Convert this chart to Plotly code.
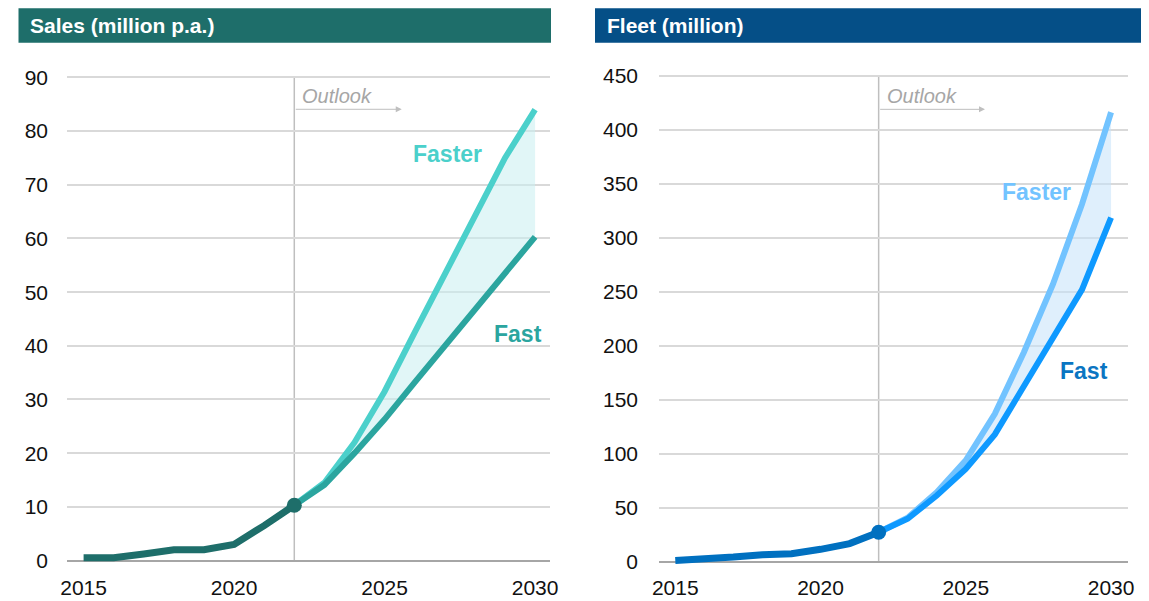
import plotly.graph_objects as go

# ---------------- data ----------------
hist_years = [2015, 2016, 2017, 2018, 2019, 2020, 2021, 2022]
out_years = [2022, 2023, 2024, 2025, 2026, 2027, 2028, 2029, 2030]

sales_hist = [0.5, 0.5, 1.2, 2.0, 2.0, 3.0, 6.5, 10.3]
sales_faster = [10.3, 14.5, 22.0, 31.5, 42.5, 53.5, 64.5, 75.0, 84.0]
sales_fast = [10.3, 14.1, 20.0, 26.3, 33.2, 39.9, 46.7, 53.4, 60.3]

fleet_hist = [1.3, 2.2, 4.5, 6.7, 7.7, 11.7, 17.0, 27.5]
fleet_faster = [27.5, 41.0, 64.5, 94.0, 137.0, 194.0, 257.0, 331.0, 416.0]
fleet_fast = [27.5, 40.0, 61.5, 86.0, 118.0, 162.0, 206.0, 252.0, 318.5]

x_ticks = [2015, 2020, 2025, 2030]
sales_ticks = [0, 10, 20, 30, 40, 50, 60, 70, 80, 90]
fleet_ticks = [0, 50, 100, 150, 200, 250, 300, 350, 400, 450]

titles = ["Sales (million p.a.)", "Fleet (million)"]
scenario_labels = ["Faster", "Fast"]
outlook_label = "Outlook"
outlook_year = 2022

# ---------------- layout helpers ----------------
# the page body has an 8px default margin: offset all pixel positions by it
OFF = 8
W, H = 1149 - OFF, 601 - OFF
FONT = "Liberation Sans, Arial, sans-serif"


def fx(sx):  # screen x -> paper fraction
    return (sx - OFF) / W


def fy(sy):  # screen y -> paper fraction
    return 1 - (sy - OFF) / H


left = dict(header="#1E6E6A", hist="#1E6E6A", faster="#4BD0CB", fast="#2BA59F",
            fill="rgba(200,238,240,0.55)", fast_lbl="#2BA59F", faster_lbl="#4BD0CB")
right = dict(header="#054F87", hist="#0070C0", faster="#72C3FF", fast="#0E99FF",
             fill="rgba(196,226,250,0.55)", fast_lbl="#0A75C2", faster_lbl="#72C3FF")

fig = go.Figure()


def add_panel(xref, yref, hist, faster, fast, st):
    fig.add_trace(go.Scatter(x=out_years, y=fast, mode="lines", line=dict(width=0),
                             hoverinfo="skip", showlegend=False, xaxis=xref, yaxis=yref))
    fig.add_trace(go.Scatter(x=out_years, y=faster, mode="lines", line=dict(width=0),
                             fill="tonexty", fillcolor=st["fill"], hoverinfo="skip",
                             showlegend=False, xaxis=xref, yaxis=yref))
    fig.add_trace(go.Scatter(x=out_years, y=faster, mode="lines",
                             line=dict(color=st["faster"], width=6),
                             showlegend=False, xaxis=xref, yaxis=yref))
    fig.add_trace(go.Scatter(x=out_years, y=fast, mode="lines",
                             line=dict(color=st["fast"], width=6),
                             showlegend=False, xaxis=xref, yaxis=yref))
    fig.add_trace(go.Scatter(x=hist_years, y=hist, mode="lines",
                             line=dict(color=st["hist"], width=7),
                             showlegend=False, xaxis=xref, yaxis=yref))
    fig.add_trace(go.Scatter(x=[hist_years[-1]], y=[hist[-1]], mode="markers",
                             marker=dict(color=st["hist"], size=15),
                             showlegend=False, xaxis=xref, yaxis=yref, cliponaxis=False))


add_panel("x", "y", sales_hist, sales_faster, sales_fast, left)
add_panel("x2", "y2", fleet_hist, fleet_faster, fleet_fast, right)

axis_common = dict(showline=False, ticks="", automargin=False,
                   tickfont=dict(family=FONT, size=21, color="#111"), fixedrange=True)

fig.update_layout(
    template="none",
    width=W, height=H, margin=dict(l=0, r=0, t=0, b=0, pad=0), autosize=False,
    paper_bgcolor="white", plot_bgcolor="white", showlegend=False,
    xaxis=dict(domain=[fx(67), fx(550)], range=[2014.449, 2030.495], tickvals=x_ticks,
               showgrid=False, zeroline=False, anchor="y", ticklabelstandoff=8, **axis_common),
    yaxis=dict(domain=[fy(564.8), fy(72.1)], range=[-0.8, 91], tickvals=sales_ticks,
               showgrid=True, gridcolor="#D9D9D9", gridwidth=1.5,
               zeroline=True, zerolinecolor="#A6A6A6", zerolinewidth=1.5,
               anchor="x", ticklabelstandoff=18, **axis_common),
    xaxis2=dict(domain=[fx(659), fx(1128)], range=[2014.439, 2030.583], tickvals=x_ticks,
                showgrid=False, zeroline=False, anchor="y2", ticklabelstandoff=7, **axis_common),
    yaxis2=dict(domain=[fy(566.3), fy(70.1)], range=[-4, 455], tickvals=fleet_ticks,
                showgrid=True, gridcolor="#D9D9D9", gridwidth=1.5,
                zeroline=True, zerolinecolor="#A6A6A6", zerolinewidth=1.5,
                anchor="x2", ticklabelstandoff=20, **axis_common),
)

shapes = []
annotations = []

# header bars
for (x0, x1, col, title) in [(18.5, 551, left["header"], titles[0]),
                             (595, 1142, right["header"], titles[1])]:
    shapes.append(dict(type="rect", xref="paper", yref="paper",
                       x0=fx(x0), x1=fx(x1), y0=fy(42.7), y1=fy(8.3),
                       fillcolor=col, line=dict(width=0), layer="below"))
    annotations.append(dict(xref="paper", yref="paper", x=fx(x0 + 9.5), y=fy(25.5),
                            text=f"<b>{title}</b>", showarrow=False, xanchor="left",
                            yanchor="middle",
                            font=dict(family=FONT, size=21, color="white")))

# outlook vertical lines, text and arrows
for (xr, yr, ytop, arrow_y, arrow_x, txt_y) in [
        ("x", "y", 90, 84.07, 2025.57, 86.55),
        ("x2", "y2", 450, 418.7, 2025.66, 431)]:
    shapes.append(dict(type="line", xref=xr, yref=yr, x0=outlook_year, x1=outlook_year,
                       y0=0, y1=ytop, line=dict(color="#BFBFBF", width=1.5), layer="below"))
    annotations.append(dict(xref=xr, yref=yr, x=arrow_x, y=arrow_y, ax=outlook_year, ay=arrow_y,
                            axref=xr, ayref=yr, showarrow=True, arrowhead=2, arrowsize=1.2,
                            arrowwidth=1, arrowcolor="#BFBFBF", text=""))
    annotations.append(dict(xref=xr, yref=yr, x=outlook_year, y=txt_y, xshift=6,
                            text=f"<i>{outlook_label}</i>", showarrow=False,
                            xanchor="left", yanchor="middle",
                            font=dict(family=FONT, size=20, color="#A6A6A6")))

# scenario labels
for (xr, yr, pos, st) in [("x", "y", [(2027.1, 75.7), (2029.43, 42.2)], left),
                          ("x2", "y2", [(2027.42, 342.2), (2029.06, 176.9)], right)]:
    for lbl, (px, py), col in zip(scenario_labels, pos, [st["faster_lbl"], st["fast_lbl"]]):
        annotations.append(dict(xref=xr, yref=yr, x=px, y=py, text=f"<b>{lbl}</b>",
                                showarrow=False, xanchor="center", yanchor="middle",
                                font=dict(family=FONT, size=23, color=col)))

fig.update_layout(shapes=shapes, annotations=annotations)
fig.write_html("out.html")
